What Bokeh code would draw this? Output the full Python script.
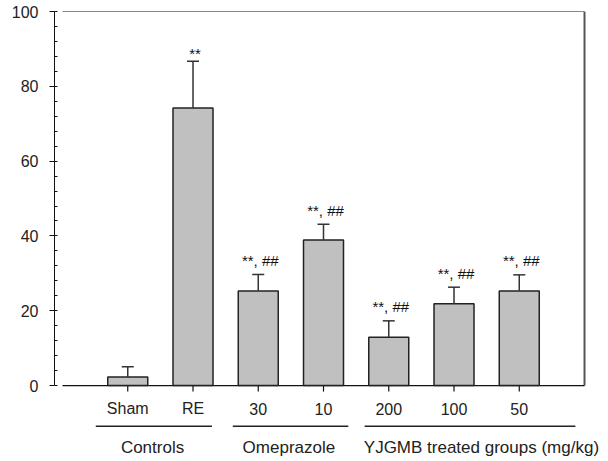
from bokeh.plotting import figure
from bokeh.models import (ColumnDataSource, Range1d, LinearAxis, SingleIntervalTicker,
                          Whisker, TeeHead)
from bokeh.core.properties import value
from bokeh.embed import file_html
from bokeh.resources import INLINE

# ---- data ----
categories = ["Sham", "RE", "30", "10", "200", "100", "50"]
means = [2.3, 74.2, 25.3, 38.9, 12.9, 21.9, 25.3]
errors = [2.7, 12.5, 4.4, 4.2, 4.4, 4.4, 4.3]
marks = ["", "**", "**, ##", "**, ##", "**, ##", "**, ##", "**, ##"]
group_names = ["Controls", "Omeprazole", "YJGMB treated groups (mg/kg)"]
group_first = [0, 2, 4]   # index of first category in group
group_last = [1, 3, 6]    # index of last category in group
y_ticks_interval = 20

FONT = "Liberation Sans"
TXT = "#222222"

xs = [i + 1 for i in range(len(categories))]
tops = [m + e for m, e in zip(means, errors)]
src = ColumnDataSource(dict(x=xs, mean=means, top=tops, mark=marks, cat=categories,
                            moff=[-8 if "#" not in m else -14 for m in marks]))

p = figure(width=608, height=461, output_backend="svg", toolbar_location=None,
           x_range=Range1d(-0.1225, 8.3675), y_range=Range1d(-20.3, 100),
           x_axis_location=None, y_axis_location=None,
           min_border_left=54, min_border_right=0, min_border_top=11, min_border_bottom=0)
p.outline_line_color = None
p.xgrid.visible = False
p.ygrid.visible = False

# y axis (offset from frame)
ya = LinearAxis(bounds=(0, 100), ticker=SingleIntervalTicker(interval=y_ticks_interval, num_minor_ticks=5))
ya.axis_line_color = "#111111"
ya.axis_line_width = 1
ya.major_tick_out = 5
ya.major_tick_in = 0
ya.minor_tick_in = 3
ya.minor_tick_out = 0
ya.major_tick_line_color = "#111111"
ya.minor_tick_line_color = "#111111"
ya.major_label_text_font = FONT
ya.major_label_text_font_size = "16px"
ya.major_label_text_color = TXT
ya.major_label_standoff = 11
p.add_layout(ya, "left")

# frame lines (top, right, bottom)
n = len(categories)
p.segment(x0=[0], y0=[100], x1=[n + 1], y1=[100], line_color="#111111", line_width=1.2)
p.segment(x0=[n + 1], y0=[0], x1=[n + 1], y1=[100], line_color="#555555", line_width=2)
p.segment(x0=[0], y0=[0], x1=[n + 1], y1=[0], line_color="#111111", line_width=1.2)

# category ticks
p.segment(x0="x", y0=0, x1="x", y1=-1.6, source=src, line_color="#111111", line_width=1.2)

# bars
p.vbar(x="x", top="mean", bottom=0, width=0.613, source=src,
       fill_color="#c0c0c0", line_color="#222222", line_width=1.5)

# error bars (upper only)
w = Whisker(base="x", lower="mean", upper="top", source=src, lower_head=None,
            upper_head=TeeHead(size=12, line_color="#333333", line_width=1.5),
            line_color="#333333", line_width=1.5, level="glyph")
p.add_layout(w)

# significance marks
p.text(x="x", y="top", text="mark", source=src, y_offset="moff", x_offset=2,
       text_align="center", text_baseline="alphabetic",
       text_font=value(FONT), text_font_size="15px", text_color="#111111")

# category labels
p.text(x="x", y=0, text="cat", source=src, y_offset=23, text_align="center",
       text_baseline="middle", text_font=value(FONT), text_font_size="16px", text_color=TXT)

# group underlines and labels
gx0 = [group_first[0] + 1 - 0.49, group_first[1] + 1 - 0.39, group_first[2] + 1 - 0.37]
gx1 = [group_last[0] + 1 + 0.29, group_last[1] + 1 + 0.38, group_last[2] + 1 + 0.86]
gxc = [1.38, 3.47, 6.42]
p.segment(x0=gx0, y0=[-10.9] * 3, x1=gx1, y1=[-10.9] * 3, line_color="#222222", line_width=1.5)
p.text(x=gxc, y=[0] * 3, text=group_names, y_offset=62, text_align="center",
       text_baseline="middle", text_font=value(FONT), text_font_size="17px", text_color=TXT)

open("out.html", "w").write(file_html(p, INLINE))
